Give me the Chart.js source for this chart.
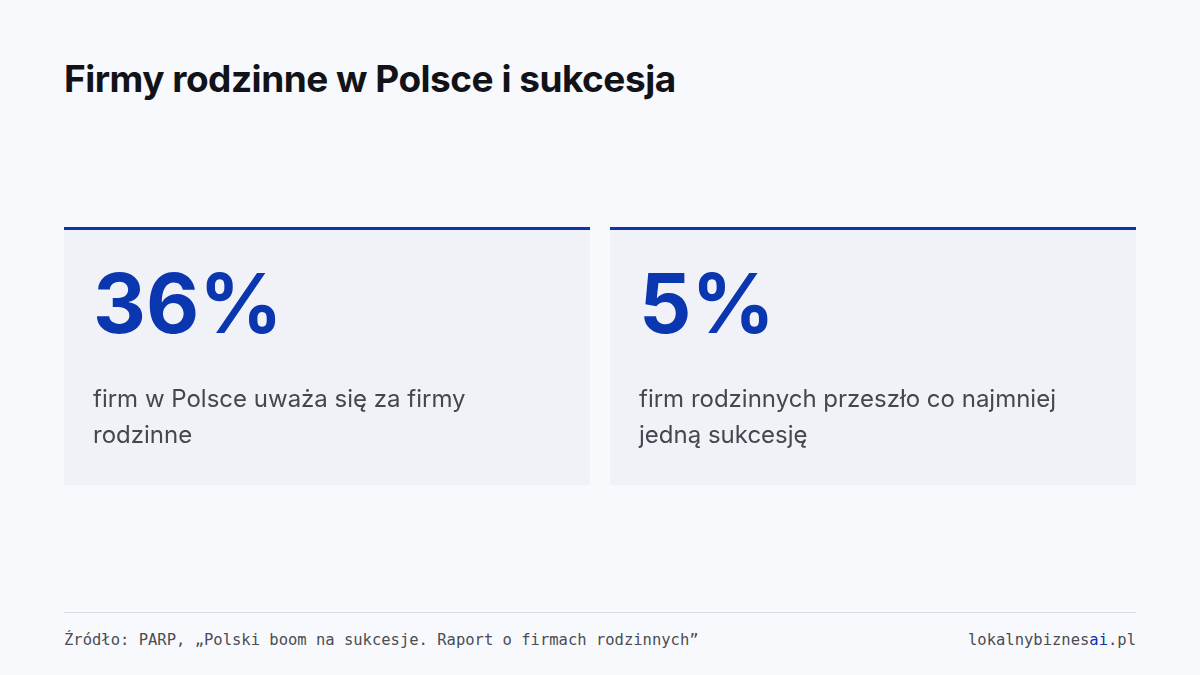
<!DOCTYPE html>
<html>
<head>
<meta charset="utf-8">
<script src="https://cdn.jsdelivr.net/npm/chart.js@4"></script>
<style>
  html, body { margin: 0; padding: 0; }
  body { width: 1200px; height: 675px; background: #f8f9fc; position: relative; overflow: hidden; font-family: Inter, "Noto Sans", sans-serif; }
  h1 { position: absolute; left: 64px; top: 56px; margin: 0; font-size: 37px; font-weight: 700; color: #111318; letter-spacing: -0.5px; }
  #wrap { position: absolute; left: 54px; top: 220px; width: 1092px; height: 266px; }
  .rule { position: absolute; left: 64px; top: 612px; width: 1072px; height: 1px; background: #d9dbe0; }
  .foot { position: absolute; top: 631px; font-family: "DejaVu Sans Mono", "Liberation Mono", monospace; font-size: 15.5px; color: #4a4d55; }
  .foot.l { left: 64px; }
  .foot.r { right: 64px; }
  .foot b { font-weight: 400; color: #0a36b0; }
</style>
</head>
<body>
<h1>Firmy rodzinne w Polsce i sukcesja</h1>
<div id="wrap"><canvas id="c"></canvas></div>
<div class="rule"></div>
<div class="foot l">Źródło: PARP, „Polski boom na sukcesje. Raport o firmach rodzinnych”</div>
<div class="foot r">lokalnybiznes<b>ai</b>.pl</div>
<script>
// ── Stat cards ─────────────────────────
const categories = ['firmy rodzinne', 'sukcesja'];
const statValues = [36, 5];
const statLines = [
  ['firm w Polsce uważa się za firmy', 'rodzinne'],
  ['firm rodzinnych przeszło co najmniej', 'jedną sukcesję'],
];

const cardText = {
  id: 'cardText',
  afterDatasetsDraw(chart) {
    const ctx = chart.ctx;
    chart.getDatasetMeta(0).data.forEach((bar, i) => {
      const left = bar.x - bar.width / 2;
      ctx.save();
      ctx.fillStyle = '#0a36b0';
      ctx.fillRect(left, bar.y, bar.width, 3);   // top accent line
      ctx.font = '700 82px Inter, "Noto Sans", sans-serif';
      ctx.textBaseline = 'alphabetic';
      ctx.fillText(statValues[i] + '%', left + 29, bar.y + 106);
      ctx.fillStyle = '#45474f';
      ctx.font = '400 24px Inter, "Noto Sans", sans-serif';
      statLines[i].forEach((t, j) => ctx.fillText(t, left + 29, bar.y + 180 + j * 36));
      ctx.restore();
    });
  }
};

new Chart(document.getElementById('c'), {
  type: 'bar',
  data: {
    labels: categories,
    datasets: [{
      data: categories.map(() => 100),
      backgroundColor: '#f0f2f8',
      borderWidth: 0,
      categoryPercentage: 1,
      barPercentage: 526 / 546,
    }]
  },
  options: {
    responsive: true,
    maintainAspectRatio: false,
    animation: false,
    layout: { padding: { top: 7, bottom: 1 } },
    plugins: { legend: { display: false }, tooltip: { enabled: false } },
    scales: {
      x: { display: false },
      y: { display: false, min: 0, max: 100 }
    }
  },
  plugins: [cardText]
});
</script>
</body>
</html>
